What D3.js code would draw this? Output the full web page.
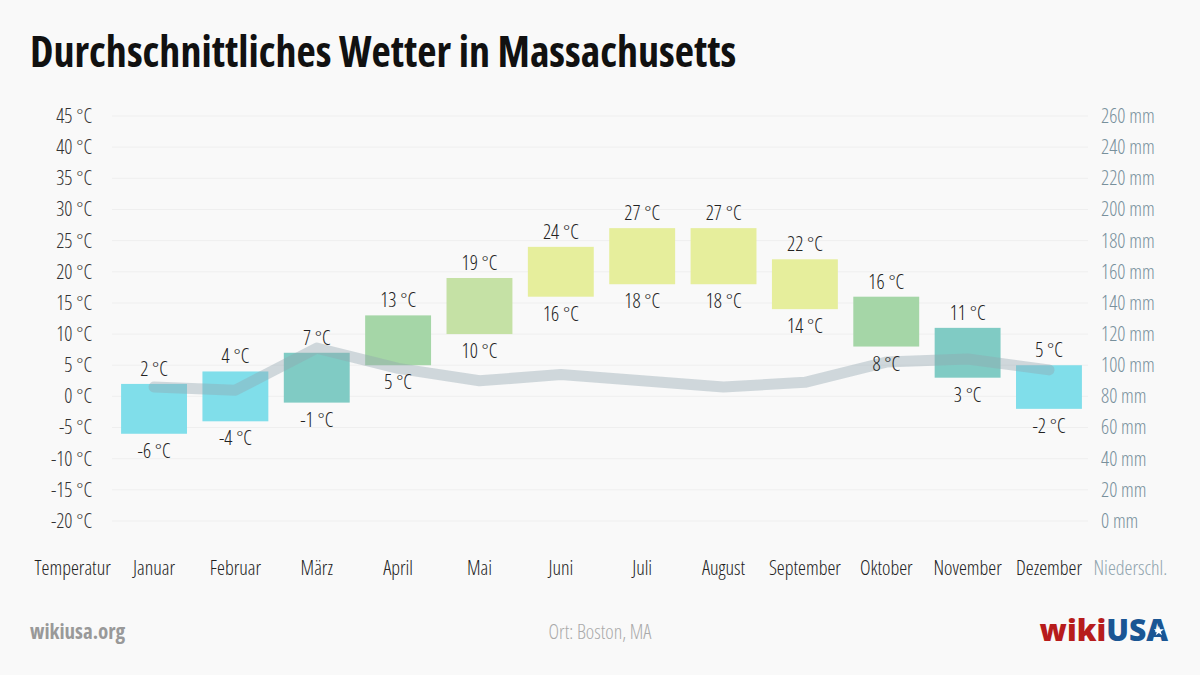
<!DOCTYPE html>
<html>
<head>
<meta charset="utf-8">
<script src="https://cdn.jsdelivr.net/npm/d3@7"></script>
<style>
  html, body { margin: 0; padding: 0; background: #f9f9f9; }
  svg { display: block; font-family: "Open Sans", sans-serif; font-stretch: 75%; }
</style>
</head>
<body>
<svg id="chart" width="1200" height="675"></svg>
<script>
const months = ["Januar","Februar","März","April","Mai","Juni","Juli","August","September","Oktober","November","Dezember"];
const tempHigh = [2, 4, 7, 13, 19, 24, 27, 27, 22, 16, 11, 5];
const tempLow = [-6, -4, -1, 5, 10, 16, 18, 18, 14, 8, 3, -2];
const precip = [86, 84, 111, 98, 90, 94, 90, 86, 89, 102, 104, 97];
const tempTicks = [-20, -15, -10, -5, 0, 5, 10, 15, 20, 25, 30, 35, 40, 45];
const precipTicks = [0, 20, 40, 60, 80, 100, 120, 140, 160, 180, 200, 220, 240, 260];

const svg = d3.select("#chart");
const W = 1200, H = 675;
svg.append("rect").attr("width", W).attr("height", H).attr("fill", "#f9f9f9");

const cols = ["Temperatur", ...months, "Niederschl."];
const x = d3.scaleBand().domain(cols).range([32, 1171]).paddingInner(0.19).paddingOuter(0.095);
const yT = d3.scaleLinear().domain([-20, 45]).range([521, 116]);
const yP = d3.scaleLinear().domain([0, 260]).range([521, 116]);

const color = d3.scaleThreshold().domain([3, 9, 14, 17])
  .range(["#80deea", "#80cbc4", "#a5d6a7", "#c5e1a5", "#e6ee9c"]);

// Title
svg.append("text").attr("x", 30).attr("y", 67)
  .attr("font-size", 42).attr("font-weight", 700).attr("fill", "#111")
  .text("Durchschnittliches Wetter in Massachusetts");

// Gridlines
svg.append("g").selectAll("line").data(tempTicks).join("line")
  .attr("x1", 112).attr("x2", 1088)
  .attr("y1", d => yT(d)).attr("y2", d => yT(d))
  .attr("stroke", "#efefef").attr("stroke-width", 1);

// Left axis
const axL = svg.append("g").attr("transform", "translate(92,0)")
  .call(d3.axisLeft(yT).tickValues(tempTicks).tickSize(0).tickPadding(0).tickFormat(d => d + " °C"));
axL.select(".domain").remove();
axL.selectAll("text").attr("font-size", 20).attr("fill", "#333")
  .attr("font-family", "'Open Sans', sans-serif").attr("font-weight", 300);

// Right axis
const axR = svg.append("g").attr("transform", "translate(1101,0)")
  .call(d3.axisRight(yP).tickValues(precipTicks).tickSize(0).tickPadding(0).tickFormat(d => d + " mm"));
axR.select(".domain").remove();
axR.selectAll("text").attr("font-size", 20).attr("fill", "#78909c")
  .attr("font-family", "'Open Sans', sans-serif").attr("font-weight", 300);

// Bars
const data = months.map((m, i) => ({ m, hi: tempHigh[i], lo: tempLow[i], p: precip[i] }));
svg.append("g").selectAll("rect").data(data).join("rect")
  .attr("x", d => x(d.m)).attr("width", x.bandwidth())
  .attr("y", d => yT(d.hi)).attr("height", d => yT(d.lo) - yT(d.hi))
  .attr("fill", d => color((d.hi + d.lo) / 2));

// Precip line
const line = d3.line().x(d => x(d.m) + x.bandwidth() / 2).y(d => yP(d.p));
svg.append("path").datum(data).attr("d", line)
  .attr("fill", "none").attr("stroke", "rgb(144,164,174)").attr("stroke-opacity", 0.4)
  .attr("stroke-width", 11).attr("stroke-linecap", "round").attr("stroke-linejoin", "round");

// Value labels
const lab = svg.append("g").attr("font-size", 20).attr("font-weight", 300).attr("fill", "#222").attr("text-anchor", "middle");
lab.selectAll("text.hi").data(data).join("text").attr("class", "hi")
  .attr("x", d => x(d.m) + x.bandwidth() / 2).attr("y", d => yT(d.hi) - 8)
  .text(d => d.hi + " °C");
lab.selectAll("text.lo").data(data).join("text").attr("class", "lo")
  .attr("x", d => x(d.m) + x.bandwidth() / 2).attr("y", d => yT(d.lo) + 24)
  .text(d => d.lo + " °C");

// Category labels
svg.append("g").selectAll("text").data(cols).join("text")
  .attr("x", d => x(d) + x.bandwidth() / 2).attr("y", 575)
  .attr("text-anchor", "middle").attr("font-size", 20).attr("font-weight", 300)
  .attr("fill", (d, i) => i === cols.length - 1 ? "#90a4ae" : "#222")
  .text(d => d);

// Footer
svg.append("text").attr("x", 30).attr("y", 639).attr("font-size", 21).attr("font-weight", 700)
  .attr("fill", "#999").attr("font-stretch", "82%").text("wikiusa.org");
svg.append("text").attr("x", 600).attr("y", 639).attr("text-anchor", "middle").attr("font-size", 20)
  .attr("font-weight", 300).attr("fill", "#aaa").text("Ort: Boston, MA");

const logo = svg.append("text").attr("x", 1168).attr("y", 641).attr("text-anchor", "end")
  .attr("font-size", 30).attr("font-weight", 800).attr("font-stretch", "100%");
logo.append("tspan").attr("fill", "#b71c1c").text("wiki");
logo.append("tspan").attr("fill", "#1a5694").text("USA");
const ext = logo.node().getExtentOfChar(6);
svg.append("path")
  .attr("d", d3.symbol().type(d3.symbolStar).size(32)())
  .attr("transform", `translate(${ext.x + ext.width * 0.58},${641 - 10})`)
  .attr("fill", "#fff");
</script>
</body>
</html>
